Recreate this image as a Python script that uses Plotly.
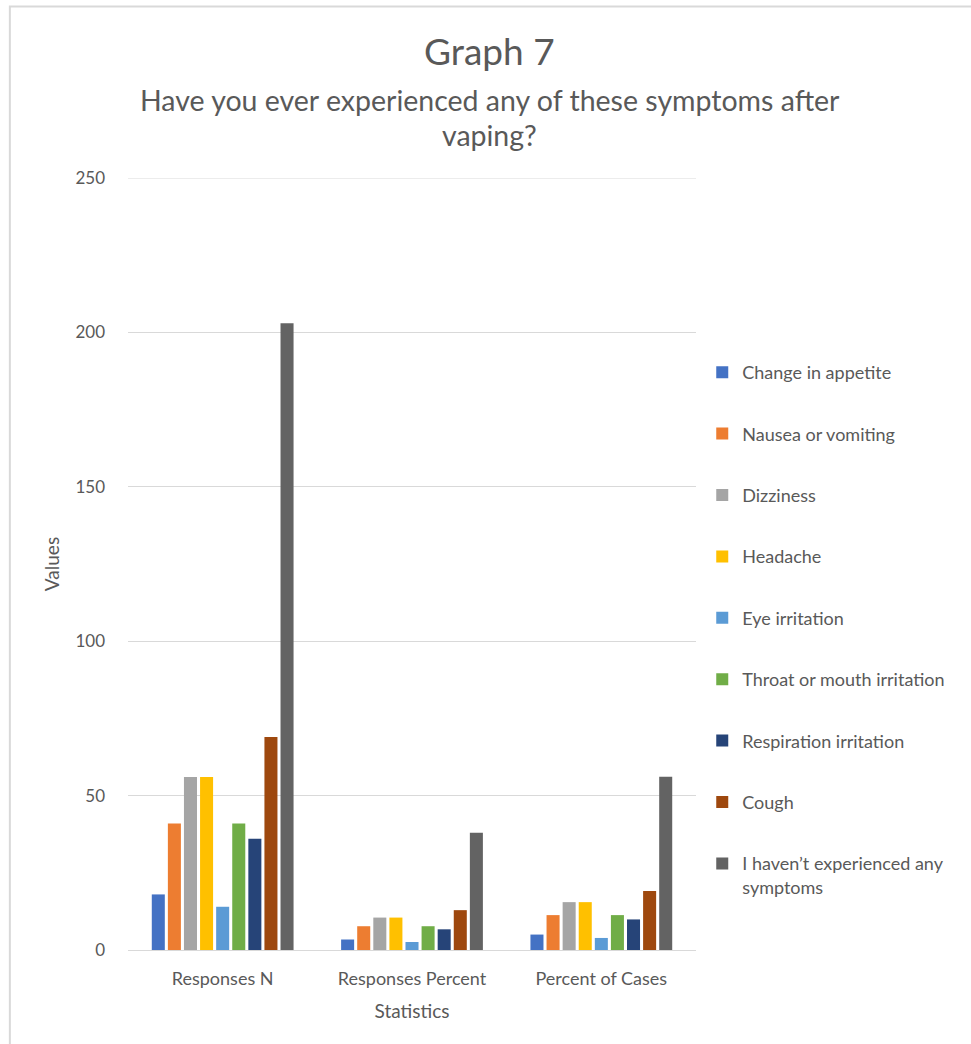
import plotly.graph_objects as go

# Survey results: symptoms reported after vaping
statistics = ["Responses N", "Responses Percent", "Percent of Cases"]
symptoms = [
    "Change in appetite",
    "Nausea or vomiting",
    "Dizziness",
    "Headache",
    "Eye irritation",
    "Throat or mouth irritation",
    "Respiration irritation",
    "Cough",
    "I haven\u2019t experienced any<br>symptoms",
]
responses_n = [18, 41, 56, 56, 14, 41, 36, 69, 203]
responses_percent = [3.4, 7.7, 10.5, 10.5, 2.6, 7.7, 6.7, 12.9, 38.0]
percent_of_cases = [5.0, 11.3, 15.5, 15.5, 3.9, 11.3, 9.9, 19.1, 56.1]
y_ticks = [0, 50, 100, 150, 200, 250]

colors = ["#4472C4", "#ED7D31", "#A5A5A5", "#FFC000", "#5B9BD5",
          "#70AD47", "#264478", "#9E480E", "#636363"]

FONT = "Lato, Open Sans, sans-serif"
TEXT = "#595959"
GRID = "#D9D9D9"
TITLE_X = 0.637  # title block is centred on the whole chart, not the plot area

fig = go.Figure()
for i, name in enumerate(symptoms):
    vals = [responses_n[i], responses_percent[i], percent_of_cases[i]]
    fig.add_trace(go.Bar(
        x=statistics, y=vals, name=name,
        marker=dict(color=colors[i], line=dict(width=0)),
        legendgroup=f"g{i}",
    ))

fig.update_layout(
    width=971, height=1044,
    margin=dict(l=128, r=275, t=178, b=94),
    paper_bgcolor="white", plot_bgcolor="white",
    barmode="group", bargap=0.235, bargroupgap=0.19,
    font=dict(family=FONT, color=TEXT),
    legend=dict(
        x=1.011, y=0.772, xanchor="left", yanchor="top",
        font=dict(family=FONT, size=18, color=TEXT),
        tracegroupgap=35, valign="top",
        itemwidth=30,
    ),
    xaxis=dict(
        title=dict(text="Statistics", font=dict(size=19, color=TEXT), standoff=17),
        tickfont=dict(size=18, color=TEXT),
        showline=True, linecolor=GRID, linewidth=1,
        ticks="", showgrid=False, ticklabelstandoff=12,
    ),
    yaxis=dict(
        title=dict(text="Values", font=dict(size=19, color=TEXT), standoff=10),
        range=[0, y_ticks[-1]], tickvals=y_ticks,
        tickfont=dict(size=17, color=TEXT),
        showgrid=True, gridcolor=GRID, gridwidth=1,
        zeroline=False, ticks="", ticklabelstandoff=22,
    ),
    annotations=[
        dict(text="Graph 7", xref="paper", yref="paper", x=TITLE_X, y=1.0,
             xanchor="center", yanchor="middle", yshift=(178 - 50),
             showarrow=False, font=dict(size=37, color=TEXT)),
        dict(text="Have you ever experienced any of these symptoms after",
             xref="paper", yref="paper", x=TITLE_X, y=1.0,
             xanchor="center", yanchor="middle", yshift=(178 - 100),
             showarrow=False, font=dict(size=28.5, color=TEXT)),
        dict(text="vaping?", xref="paper", yref="paper", x=TITLE_X, y=1.0,
             xanchor="center", yanchor="middle", yshift=(178 - 135),
             showarrow=False, font=dict(size=28.5, color=TEXT)),
    ],
    shapes=[
        # top gridline at the axis maximum
        dict(type="line", xref="paper", yref="y", x0=0, x1=1,
             y0=y_ticks[-1], y1=y_ticks[-1],
             line=dict(color=GRID, width=1), layer="below"),
        # chart-area border
        dict(type="rect", xref="paper", yref="paper",
             x0=-0.208, x1=1.8, y0=-0.2, y1=1.222,
             line=dict(color=GRID, width=2), fillcolor="rgba(0,0,0,0)",
             layer="below"),
    ],
)

fig.write_html("out.html")
